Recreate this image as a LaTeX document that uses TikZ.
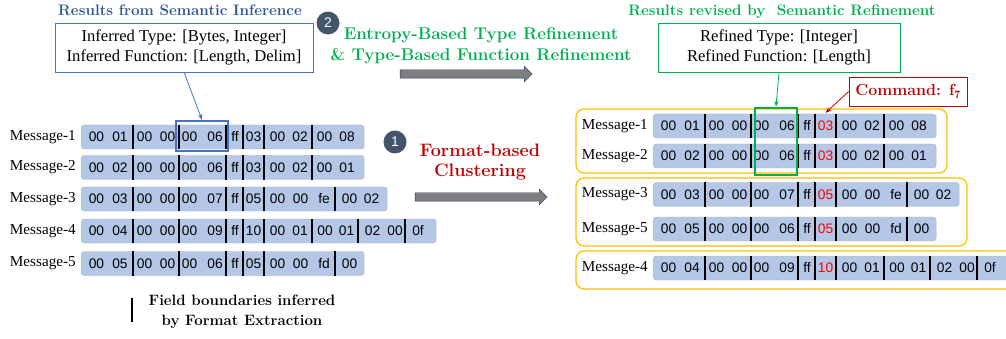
\documentclass[tikz,border=0pt]{standalone}
\usepackage{fontspec}
\newfontfamily\hexfont{Liberation Sans}
\newfontfamily\labelfont{Liberation Serif}
\usetikzlibrary{shapes.arrows,arrows.meta}

\definecolor{barblue}{HTML}{B4C7E7}
\definecolor{titleblue}{HTML}{2F5597}
\definecolor{boxblue}{HTML}{4472C4}
\definecolor{stepgreen}{HTML}{00B050}
\definecolor{darkred}{HTML}{C00000}
\definecolor{cmdred}{HTML}{FF0000}
\definecolor{groupgold}{HTML}{FFC000}
\definecolor{slate}{HTML}{44546A}
\definecolor{arrowgray}{HTML}{7F7F7F}
\definecolor{navy}{HTML}{1F3864}

\tikzset{
  msgbar/.style={draw=gray!60, fill=barblue, rounded corners=3pt, anchor=west, minimum height=24pt, inner sep=0pt},
  msglabel/.style={anchor=east, inner sep=0pt, font=\labelfont\fontsize{15.2}{16}\selectfont},
  byte/.style={inner sep=0pt, font=\hexfont\fontsize{13.8}{15}\selectfont},
  fieldsep/.style={line width=2.6pt},
  infobox/.style={draw, minimum height=49pt, align=center, font=\labelfont\fontsize{16.6}{20}\selectfont},
  boldtitle/.style={font=\bfseries\fontsize{15.2}{18}\selectfont},
  steptext/.style={align=center, font=\bfseries\fontsize{17}{21}\selectfont},
  stepnum/.style={circle, fill=slate, text=white, minimum size=23pt, inner sep=0pt, font=\hexfont\fontsize{14}{16}\selectfont},
  blockarrow/.style={single arrow, draw=navy, fill=arrowgray, minimum height=132pt, inner sep=4pt, single arrow head extend=3.5pt},
  groupbox/.style={draw=groupgold, line width=1.3pt, rounded corners=8pt}
}

\begin{document}
\begin{tikzpicture}[x=1pt,y=-1pt]
\useasboundingbox (0,0) rectangle (1006,339);
\clip (0,0) rectangle (1006,339);

% clusters on the right
\draw [groupbox] (576,109) rectangle (947,173);
\draw [groupbox] (576,178) rectangle (967,246);
\draw [groupbox] (576,251) rectangle (1020,289);

% messages: number / left y / right y / width / command byte / boundaries / other bytes
\foreach \n/\ly/\ry/\w/\c/\seps/\bytes in {
  1/137/126/283/03/{52,98,145,162,183,231}/{15.5/00,39/01,63.5/00,86.5/00,108.5/00,134/06,154/ff,196.5/00,219/02,243.5/00,266/08},
  2/167.5/156/283/03/{52,98,145,162,183,231}/{15.5/00,39/02,63.5/00,86.5/00,108.5/00,134/06,154/ff,196.5/00,219/02,243.5/00,266/01},
  3/199/194.5/306/05/{52,98,145,162,183,254}/{15.5/00,39/03,63.5/00,86.5/00,108.5/00,134/07,154/ff,196.5/00,219.5/00,243/fe,268.5/00,290.5/02},
  4/231/268/355/10/{52,98,145,162,183,231,277,324}/{15.5/00,39/04,63.5/00,86.5/00,108.5/00,134/09,154/ff,196.5/00,219/01,244/00,265.5/01,291.5/02,314/00,337/0f},
  5/263.5/229/283/05/{52,98,145,162,183,254}/{15.5/00,39/05,63.5/00,86.5/00,108.5/00,134/06,154/ff,196.5/00,219.5/00,243/fd,268.5/00}}{
  \node [msgbar, minimum width=\w pt] (lm\n) at (81,\ly) {};
  \node [msgbar, minimum width=\w pt] (rm\n) at (653,\ry) {};
  \node [msglabel] at ([xshift=-5pt]lm\n.west) {Message-\n};
  \node [msglabel] at ([xshift=-5pt]rm\n.west) {Message-\n};
  \foreach \x in \seps {
    \draw [fieldsep] ([xshift=\x pt]lm\n.north west) -- ([xshift=\x pt]lm\n.south west);
    \draw [fieldsep] ([xshift=\x pt]rm\n.north west) -- ([xshift=\x pt]rm\n.south west);
  }
  \foreach \x/\b in \bytes {
    \node [byte] at ([xshift=\x pt]lm\n.west) {\b};
    \node [byte] at ([xshift=\x pt]rm\n.west) {\b};
  }
  \node [byte] (lc\n) at ([xshift=172.5pt]lm\n.west) {\c};
  \node [byte, text=cmdred] (rc\n) at ([xshift=172.5pt]rm\n.west) {\c};
}

% semantic inference
\node [boldtitle, text=titleblue] (inftitle) at (180,10) {Results from Semantic Inference};
\node [infobox, draw=boxblue, minimum width=258pt] (inf) at (184,47.5) {Inferred Type: [Bytes, Integer]\\Inferred Function: [Length, Delim]};
\node [draw=boxblue, line width=2.2pt, minimum width=52pt, minimum height=30pt, inner sep=0pt] (hlinf) at (202,136) {};
\draw [boxblue, thick, -{Stealth[length=6pt]}] (inf.south) -- (hlinf.north);

% step 2
\node [stepnum] (num2) at (328,23) {2};
\node [steptext, text=stepgreen] (step2) at (481,46) {Entropy-Based Type Refinement\\\& Type-Based Function Refinement};
\node [blockarrow] (arr2) at (464,74) {};

% step 1
\node [stepnum] (num1) at (395,142) {1};
\node [steptext, text=darkred, font=\bfseries\fontsize{18}{20}\selectfont] (step1) at (480,162) {Format-based\\Clustering};
\node [blockarrow] (arr1) at (479,197) {};

% semantic refinement
\node [boldtitle, text=stepgreen] (reftitle) at (782,12) {Results revised by\ \ Semantic Refinement};
\node [infobox, draw=stepgreen, thick, minimum width=242pt] (ref) at (779,47.5) {Refined Type: [Integer]\\Refined Function: [Length]};
\node [draw=stepgreen, line width=2.5pt, minimum width=42pt, minimum height=67pt, inner sep=0pt] (hlref) at (776,141.5) {};
\draw [stepgreen, thick, -{Stealth[length=6pt]}] (ref.south) -- (hlref.north);

\node [draw=darkred, thick, text=darkred, minimum width=118pt, minimum height=29pt, font=\bfseries\fontsize{16}{18}\selectfont] (cmd) at (908,91.5) {Command: f$_{\mathbf{7}}$};
\draw [darkred, thick, -{Stealth[length=6pt]}] (cmd.west) -- ([yshift=8pt]rc1.north);

% legend
\draw [fieldsep] (132,298) -- (132,322);
\node [align=center, font=\bfseries\fontsize{15}{20}\selectfont] (legend) at (242,312) {Field boundaries inferred\\by Format Extraction};
\end{tikzpicture}
\end{document}
